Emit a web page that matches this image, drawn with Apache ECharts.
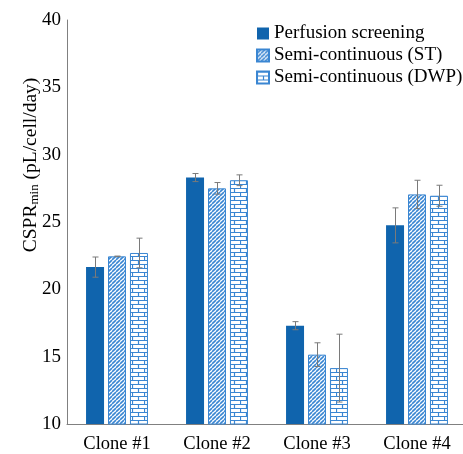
<!DOCTYPE html>
<html><head><meta charset="utf-8">
<script src="https://cdn.jsdelivr.net/npm/echarts@6/dist/echarts.min.js"></script>
<style>html,body{margin:0;padding:0;background:#fff}#c{width:463px;height:454px}</style>
</head><body><div id="c"></div>
<script>
const categories = ['Clone #1', 'Clone #2', 'Clone #3', 'Clone #4'];
const seriesNames = ['Perfusion screening', 'Semi-continuous (ST)', 'Semi-continuous (DWP)'];
const perfusion = [21.65, 28.3, 17.3, 24.75];
const perfusionErr = [0.75, 0.3, 0.3, 1.3];
const semiST = [22.45, 27.5, 15.15, 27.05];
const semiSTErr = [0.02, 0.43, 0.88, 1.05];
const semiDWP = [22.7, 28.1, 14.15, 26.95];
const semiDWPErr = [1.1, 0.4, 2.52, 0.78];
const yTicks = [10, 15, 20, 25, 30, 35, 40];

const BLUE = '#1064ad';
const LINE = '#3a86d2';

function hatch() {
  const c = document.createElement('canvas');
  c.width = 4; c.height = 4;
  const g = c.getContext('2d');
  g.fillStyle = '#ffffff'; g.fillRect(0, 0, 4, 4);
  g.strokeStyle = '#3a86d2'; g.lineWidth = 1.6;
  for (const o of [-4, 0, 4]) {
    g.beginPath(); g.moveTo(o, 4); g.lineTo(o + 4, 0); g.stroke();
  }
  return c;
}
function brick() {
  const c = document.createElement('canvas');
  c.width = 12; c.height = 8;
  const g = c.getContext('2d');
  g.fillStyle = '#ffffff'; g.fillRect(0, 0, 12, 8);
  g.strokeStyle = '#3a86d2'; g.lineWidth = 1.2;
  g.beginPath();
  g.moveTo(0, 0.5); g.lineTo(12, 0.5);
  g.moveTo(0, 4.5); g.lineTo(12, 4.5);
  g.moveTo(0.5, 0); g.lineTo(0.5, 4.5);
  g.moveTo(6.5, 4.5); g.lineTo(6.5, 8);
  g.stroke();
  return c;
}
const hatchPat = { image: hatch(), repeat: 'repeat' };
const brickPat = { image: brick(), repeat: 'repeat' };

const values = [perfusion, semiST, semiDWP];
const errs = [perfusionErr, semiSTErr, semiDWPErr];
const fills = [BLUE, hatchPat, brickPat];
const borders = [BLUE, LINE, LINE];
const BAR_W = 18, STEP = 22;

const series = [];
values.forEach((v, i) => {
  series.push({
    name: seriesNames[i], type: 'bar', data: v, barWidth: BAR_W, barGap: '22%',
    itemStyle: { color: fills[i], borderColor: borders[i], borderWidth: i === 0 ? 0 : 1 },
    emphasis: { disabled: true }
  });
});
values.forEach((v, i) => {
  const off = (i - 1) * STEP;
  series.push({
    type: 'custom', silent: true, z: 5,
    data: v.map((m, k) => [k, m, errs[i][k]]),
    encode: { x: 0, y: 1 },
    renderItem: function (params, api) {
      const k = api.value(0), m = api.value(1), e = api.value(2);
      const top = api.coord([k, m + e]);
      const bot = api.coord([k, m - e]);
      const x = Math.round(top[0] + off) + 0.5;
      const st = { stroke: '#7a7a7a', lineWidth: 1 };
      return { type: 'group', children: [
        { type: 'line', shape: { x1: x, y1: top[1], x2: x, y2: bot[1] }, style: st },
        { type: 'line', shape: { x1: x - 3, y1: top[1], x2: x + 3, y2: top[1] }, style: st },
        { type: 'line', shape: { x1: x - 3, y1: bot[1], x2: x + 3, y2: bot[1] }, style: st }
      ]};
    }
  });
});

const chart = echarts.init(document.getElementById('c'));
chart.setOption({
  animation: false,
  textStyle: { fontFamily: 'Liberation Serif' },
  grid: { left: 67, right: -4, top: 20, bottom: 30, outerBoundsMode: 'none' },
  legend: {
    orient: 'vertical', left: 256, top: 24, itemWidth: 12, itemHeight: 12, itemGap: 3,
    icon: 'rect', padding: 0,
    textStyle: { fontFamily: 'Liberation Serif', fontSize: 19, color: '#000' },
    data: seriesNames
  },
  xAxis: {
    type: 'category', data: categories,
    axisLine: { lineStyle: { color: '#808080', width: 1 } },
    axisTick: { show: false },
    axisLabel: { fontSize: 18.5, color: '#000', margin: 11, fontFamily: 'Liberation Serif' }
  },
  yAxis: {
    type: 'value', min: yTicks[0], max: yTicks[yTicks.length - 1], interval: 5,
    axisLine: { show: true, lineStyle: { color: '#808080', width: 1 } },
    axisTick: { show: false },
    splitLine: { show: false },
    axisLabel: { fontSize: 19, color: '#000', margin: 6, fontFamily: 'Liberation Serif' }
  },
  graphic: [{
    type: 'text', x: 30, y: 165, rotation: Math.PI / 2,
    style: {
      text: '{a|CSPR}{s|min}{a| (pL/cell/day)}',
      align: 'center', verticalAlign: 'middle',
      rich: {
        a: { fontSize: 19.5, fontFamily: 'Liberation Serif', fill: '#000', verticalAlign: 'bottom', lineHeight: 22 },
        s: { fontSize: 13, fontFamily: 'Liberation Serif', fill: '#000', verticalAlign: 'bottom', lineHeight: 17 }
      }
    }
  }],
  series: series
});
</script></body></html>
